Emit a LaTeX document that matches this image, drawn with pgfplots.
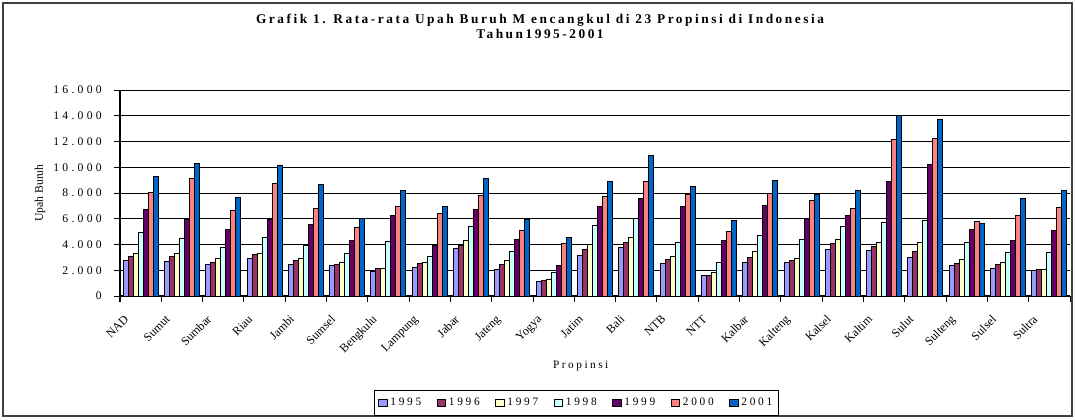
\documentclass[border=0pt]{standalone}
\usepackage{fontspec}
\setmainfont{Liberation Serif}
\usepackage{pgfplots}
\usepackage{pgfplotstable}
\pgfplotsset{compat=1.18}
\definecolor{c95}{HTML}{9999FF}
\definecolor{c96}{HTML}{993366}
\definecolor{c97}{HTML}{FFFFCC}
\definecolor{c98}{HTML}{CCFFFF}
\definecolor{c99}{HTML}{660066}
\definecolor{c00}{HTML}{FF8080}
\definecolor{c01}{HTML}{0066CC}
\pgfplotstableread{
x y95 y96 y97 y98 y99 y00 y01
0 2750 3090 3320 4960 6700 8050 9320
1 2680 3040 3320 4470 5970 9140 10310
2 2440 2620 2930 3790 5190 6620 7630
3 2930 3250 3320 4520 5970 8730 10100
4 2470 2730 2880 3920 5560 6780 8670
5 2340 2470 2570 3320 4290 5350 6050
6 1920 2150 2150 4230 6290 6960 8180
7 2210 2540 2600 3090 3950 6410 6990
8 3660 3950 4340 5380 6750 7820 9090
9 2050 2440 2750 3480 4390 5120 5970
10 1120 1190 1250 1840 2360 4100 4540
11 3140 3610 4020 5510 6990 7740 8930
12 3790 4150 4540 6020 7610 8860 10930
13 2490 2860 3090 4130 6960 7890 8470
14 1610 1560 1820 2600 4290 5040 5890
15 2600 3010 3480 4730 7060 7970 9010
16 2610 2720 2880 4370 5990 7420 7920
17 3610 4080 4370 5360 6270 6800 8180
18 3560 3870 4130 5700 8890 12150 14000
19 3010 3450 4130 5860 10250 12260 13700
20 2400 2560 2800 4180 5200 5780 5620
21 2170 2460 2640 3400 4310 6270 7580
22 1990 2040 2090 3400 5070 6850 8230
}\data
\begin{document}
\begin{tikzpicture}[x=0.75pt,y=0.75pt]
\useasboundingbox (0,0) rectangle (1075,419);
\draw[black!75, line width=1.1pt] (3,3) rectangle (1072,416);
\node[anchor=base, inner sep=0pt, font=\fontsize{10}{12}\selectfont\bfseries\addfontfeature{LetterSpace=19}] at (540,396) {Grafik 1. Rata-rata Upah Buruh M encangkul di 23 Propinsi di Indonesia};
\node[anchor=base, inner sep=0pt, font=\fontsize{10}{12}\selectfont\bfseries\addfontfeature{LetterSpace=19}] at (540,381) {Tahun1995-2001};
\begin{axis}[
  at={(90pt,92.25pt)}, anchor=south west,
  scale only axis, width=712.5pt, height=154.5pt,
  xmin=-0.5, xmax=22.5, ymin=0, ymax=16000,
  scaled y ticks=false,
  axis lines*=left,
  axis line style={-, black, line width=0.9pt},
  tick align=outside, major tick length=4.5pt,
  tick style={black, line width=0.75pt},
  ytick={0,2000,...,16000},
  yticklabels={0,2.000,4.000,6.000,8.000,10.000,12.000,14.000,16.000},
  yticklabel style={anchor=east, inner sep=0pt, xshift=-9pt,
    font=\fontsize{8.75}{10}\selectfont\addfontfeature{LetterSpace=28}},
  ymajorgrids, major grid style={black, line width=0.75pt},
  xtick={-0.5,0.5,...,22.5}, xticklabels={},
  extra x ticks={0,1,...,22},
  extra x tick labels={NAD,Sumut,Sumbar,Riau,Jambi,Sumsel,Bengkulu,Lampung,Jabar,Jateng,Yogya,Jatim,Bali,NTB,NTT,Kalbar,Kalteng,Kalsel,Kaltim,Sulut,Sulteng,Sulsel,Sultra},
  extra x tick style={major tick length=0pt,
    xticklabel style={font=\fontsize{9}{10}\selectfont, inner sep=0pt, xshift=-12.75pt, yshift=-13.5pt, rotate=45, anchor=north east}},
  ylabel={Upah Buruh},
  ylabel style={at={(axis description cs:-0.0842,0.5)}, anchor=center, font=\fontsize{8.75}{10}\selectfont},
  xlabel={Propinsi},
  xlabel style={at={(axis description cs:0.485,-0.34)}, anchor=center, font=\fontsize{8.5}{10}\selectfont\addfontfeature{LetterSpace=22}},
  ybar=0pt, bar width=0.121,
  every axis plot/.append style={draw=black, line width=0.75pt},
  legend image code/.code={\draw[#1, draw=black, line width=0.75pt] (0pt,-2.8pt) rectangle (6.5pt,2.8pt);},
  legend style={at={(axis description cs:0.4805,-0.519)}, anchor=center, legend columns=7,
    draw=black, line width=0.75pt, inner xsep=3pt, inner ysep=3.5pt,
    font=\fontsize{8.5}{10}\selectfont\addfontfeature{LetterSpace=24},
    /tikz/every even column/.append style={column sep=9.5pt}},
]
\addplot[fill=c95] table[x=x,y=y95]{\data};
\addplot[fill=c96] table[x=x,y=y96]{\data};
\addplot[fill=c97] table[x=x,y=y97]{\data};
\addplot[fill=c98] table[x=x,y=y98]{\data};
\addplot[fill=c99] table[x=x,y=y99]{\data};
\addplot[fill=c00] table[x=x,y=y00]{\data};
\addplot[fill=c01] table[x=x,y=y01]{\data};
\legend{1995,1996,1997,1998,1999,2000,2001}
\end{axis}
\end{tikzpicture}
\end{document}
